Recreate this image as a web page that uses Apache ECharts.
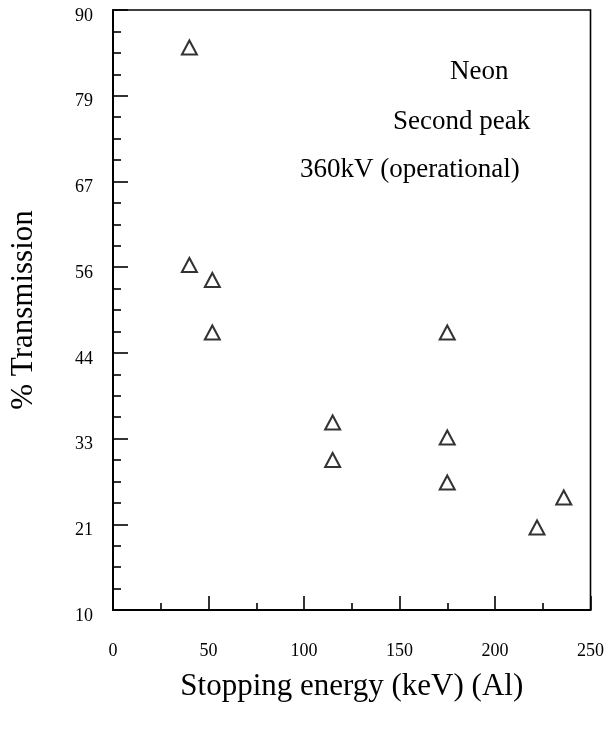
<!DOCTYPE html>
<html>
<head>
<meta charset="utf-8">
<script src="https://cdn.jsdelivr.net/npm/echarts@6/dist/echarts.min.js"></script>
<style>
html,body{margin:0;padding:0;background:#fff;}
#chart{width:607px;height:731px;}
</style>
</head>
<body>
<div id="chart"></div>
<script>
var energy = [40, 40, 52, 52, 115, 115, 175, 175, 175, 222, 236];
var transmission = [85, 56, 54, 47, 35, 30, 47, 33, 27, 21, 25];
var xTicks = [0, 50, 100, 150, 200, 250];
var yMin = 10, yMax = 90, ySteps = 7;
var notes = ['Neon', 'Second peak', '360kV (operational)'];

var FONT = '"Liberation Serif", "DejaVu Serif", serif';
var points = energy.map(function (e, i) { return [e, transmission[i]]; });

var chart = echarts.init(document.getElementById('chart'), null, {renderer: 'canvas'});
chart.setOption({
  backgroundColor: '#fff',
  animation: false,
  grid: {left: 112, right: 16, top: 10, bottom: 121, show: true, borderColor: '#000', borderWidth: 1.6, backgroundColor: 'transparent'},
  xAxis: {
    type: 'value', min: xTicks[0], max: xTicks[xTicks.length - 1], interval: 50,
    name: 'Stopping energy (keV) (Al)', nameLocation: 'middle', nameGap: 61,
    nameTextStyle: {fontFamily: FONT, fontSize: 31, color: '#000'},
    axisLine: {show: true, lineStyle: {color: '#000', width: 2}},
    axisTick: {show: true, inside: true, length: 14, lineStyle: {color: '#000', width: 1.6}},
    minorTick: {show: true, splitNumber: 2, length: 7, lineStyle: {color: '#000', width: 1.6}},
    axisLabel: {fontFamily: FONT, fontSize: 18, color: '#000', margin: 32},
    splitLine: {show: false}
  },
  yAxis: {
    type: 'value', min: yMin, max: yMax, interval: (yMax - yMin) / ySteps,
    name: '% Transmission', nameLocation: 'middle', nameGap: 74, nameRotate: 90,
    nameTextStyle: {fontFamily: FONT, fontSize: 31, color: '#000'},
    axisLine: {show: true, lineStyle: {color: '#000', width: 2}},
    axisTick: {show: true, inside: true, length: 15, lineStyle: {color: '#000', width: 1.6}},
    minorTick: {show: true, splitNumber: 4, length: 8, lineStyle: {color: '#000', width: 1.6}},
    axisLabel: {fontFamily: FONT, fontSize: 18, color: '#000', margin: 20, verticalAlign: 'top', lineHeight: 12,
      formatter: function (v) { return String(Math.round(v)); }},
    splitLine: {show: false}
  },
  series: [{
    type: 'scatter',
    data: points,
    symbol: 'triangle',
    symbolSize: [15, 14],
    itemStyle: {color: '#fff', borderColor: '#000', borderWidth: 2}
  }],
  graphic: [
    {type: 'text', left: 450, top: 58, style: {text: notes[0], font: '27px ' + FONT, fill: '#000'}},
    {type: 'text', left: 393, top: 108, style: {text: notes[1], font: '27px ' + FONT, fill: '#000'}},
    {type: 'text', left: 300, top: 156, style: {text: notes[2], font: '27px ' + FONT, fill: '#000'}}
  ]
});
</script>
</body>
</html>
